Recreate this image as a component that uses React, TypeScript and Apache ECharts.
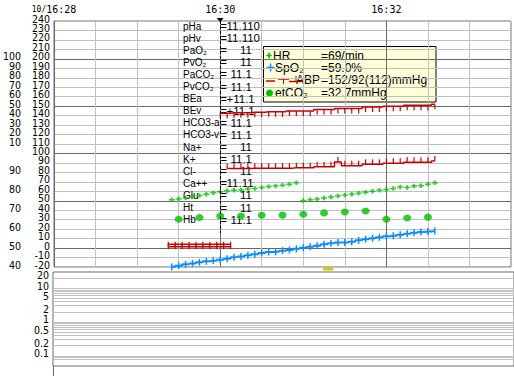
import React, { useEffect, useRef } from 'react';
import * as echarts from 'echarts';

// ---------- data ----------
const SAMPLE_SEC = 5; // trend sample interval (s since 16:28:00)
const ETCO2_SEC = 15;

const timeLabels: Record<number, string> = { 0: '{s|10/}16:28', 120: '16:30', 240: '16:32' };

// right label column (ABP / HR / etCO2 scale) and left label column
const rightTicks = [-20, -10, 0, 10, 20, 30, 40, 50, 60, 70, 80, 90, 100, 110, 120, 130, 140, 150, 160, 170, 180, 190, 200, 210, 220, 230, 240];
const leftTicks = [-20, 0, 20, 40, 60, 80, 110, 120, 130, 140, 150, 160, 170, 180, 190, 200];

const hrStart1 = 85;
const hrValues1 = [51, 52, 53, 54.5, 55.5, 57, 58.5, 59.5, 60.5, 61, 61.5, 62.5, 63, 64, 65, 65.5, 66.5, 67.5, 69];
const hrStart2 = 180;
const hrValues2 = [50, 51, 52, 53, 54, 55, 56, 57, 58, 59, 60, 61, 62, 63, 64.5, 64, 65.5, 66, 67.5, 69];

const spo2Start = 85;
const spo2Values = [40.1, 40.7, 41.4, 41.9, 42.5, 43.0, 43.3, 43.8, 44.4, 45.1, 45.6, 46.2, 46.8, 47.4, 47.9,
  48.0, 48.6, 49.0, 49.6, 50.2, 50.7, 51.2, 52.0, 52.5, 53.0, 53.0, 53.4, 54.1, 54.7, 55.2, 55.7, 56.2, 56.5,
  57.1, 57.6, 58.1, 58.5, 58.8, 59.0];

const abpSysStart = 120;
const abpSys = [142.5, 142.5, 143, 143, 143, 143.5, 143.5, 144, 144, 144, 145, 145, 145, 145, 146.5, 146.5, 146.5,
  147.5, 147.5, 147.5, 147.5, 149, 149, 149, 150, 150, 150, 151, 151, 151, 151, 152];
const abpDiaStart = 125;
const abpDia = [84, 84, 84, 84, 84.3, 84.3, 84.3, 84.3, 84.3, 84.5, 85, 85, 85, 86, 86, 86, 91, 87, 87, 87,
  88.5, 88.5, 88.5, 89.6, 89.6, 89.6, 90.6, 90.6, 90.6, 90.6, 92];

const abpZeroStart = 82.5;
const abpZeroSys = [4, 4, 4, 4, 4, 4, 4, 4, 4, 4];
const abpZeroDia = [1.5, 1.5, 1.5, 1.5, 1.5, 1.5, 1.5, 1.5, 1.5, 1.5];

const etco2Start = 90;
const etco2Values = [30.5, 32.3, 33.8, 33.9, 34.7, 34.8, 35.8, 37.2, 38.2, 39.2, 30.5, 31.7, 32.7];

const eventTimes = [198];

const labTime = 120;
const labNames = ['pHa', 'pHv', 'PaO₂', 'PvO₂', 'PaCO₂', 'PvCO₂', 'BEa', 'BEv', 'HCO3-a', 'HCO3-v', 'Na+', 'K+', 'Cl-', 'Ca++', 'Glu', 'Ht', 'Hb'];
const labValues = ['11.110', '11.110', '11', '11', '11.1', '11.1', '+11.1', '+11.1', '11.1', '11.1', '11', '11.1', '11', '11.11', '11', '11', '11.1'];

const lowerLabels = [20, 10, 5, 2, 1, 0.5, 0.2, 0.1];
const lowerGridValues = [0.08, 0.09, 0.1, 0.2, 0.3, 0.4, 0.5, 0.6, 0.7, 0.8, 0.9, 1, 2, 3, 4, 5, 6, 7, 8, 9, 10, 20];

// ---------- styles ----------
const LIGHT = '#c0c0c0';
const DARK = '#6a6a6a';
const RED = '#c80000';
const BLUE = '#0a8cff';
const GREEN = '#00c000';
const NARROW = "'Liberation Sans Narrow', 'DejaVu Sans Condensed', 'Arial Narrow', sans-serif";
const SANS = "'Liberation Sans', Arial, 'DejaVu Sans', sans-serif";
const MONO = "'DejaVu Sans Mono', 'Liberation Mono', monospace";
const PLUS = 'path://M2,0H4V2H6V4H4V6H2V4H0V2H2Z';

const seq = (start: number, step: number, values: number[]) => values.map((v, i) => [start + i * step, v]);
const last = (a: number[]) => a[a.length - 1];
const leftText = (v: number) => (v >= 110 ? String(v - 100) : String(50 + v / 2));
const even = (a: number[]) => a.filter((_, i) => i % 2 === 0);
const odd = (a: number[]) => a.filter((_, i) => i % 2 === 1);

function buildOption() {
  const hrData = [...seq(hrStart1, SAMPLE_SEC, hrValues1), ...seq(hrStart2, SAMPLE_SEC, hrValues2)];
  const hrLast = last(hrValues2);
  const spo2Last = last(spo2Values);
  const sysLast = last(abpSys);
  const diaLast = last(abpDia);
  const meanLast = Math.round((sysLast + 2 * diaLast) / 3);
  const etLast = last(etco2Values);

  const yLabel = {
    fontFamily: NARROW, fontSize: 10.5, color: '#000', margin: 4,
    verticalAlign: 'bottom', lineHeight: 5,
  };
  const hidden = { axisLine: { show: false }, axisTick: { show: false }, splitLine: { show: false } };
  const upperLabelAxis = (values: number[], offset: number, fmt: (v: number) => string) => ({
    gridIndex: 0, type: 'value', min: -20, max: 240, position: 'left', offset, ...hidden,
    axisLabel: { ...yLabel, customValues: values, formatter: fmt },
  });
  const LOG_MIN = Math.log10(0.05), LOG_MAX = Math.log10(30);
  const lowerLabelAxis = (values: number[]) => ({
    gridIndex: 1, type: 'value', min: LOG_MIN, max: LOG_MAX, position: 'left', ...hidden,
    axisLabel: {
      ...yLabel, customValues: values.map((v) => Math.log10(v)),
      formatter: (v: number) => String(Number(Math.pow(10, v).toPrecision(3))),
    },
  });

  const abpLine = (data: number[][], down: boolean) => ({
    type: 'line', xAxisIndex: 0, yAxisIndex: 0, step: 'middle', data,
    lineStyle: { color: RED, width: 1.5 }, itemStyle: { color: RED },
    symbol: 'rect', symbolSize: [1.2, 5], symbolOffset: [0, down ? 2.5 : -2.5], showSymbol: true, z: 3,
  });

  const rowY = (i: number) => 26 + i * 12.1;
  const labGraphics: any[] = [];
  labNames.forEach((n, i) => {
    const y = rowY(i);
    labGraphics.push({ type: 'text', x: 183, y, z: 1, silent: true,
      style: { text: n, fontSize: 10, fontFamily: SANS, fill: '#000', align: 'left', verticalAlign: 'middle' } });
    labGraphics.push({ type: 'text', x: 220.5, y, z: 1, silent: true,
      style: { text: '=', fontSize: 11, fontFamily: SANS, fill: '#000', align: 'left', verticalAlign: 'middle' } });
    const v = labValues[i];
    const leftAligned = v.startsWith('+') || v.length >= 5;
    labGraphics.push({ type: 'text', x: leftAligned ? 226.5 : 252, y, z: 1, silent: true,
      style: { text: v, fontSize: 11.5, fontFamily: SANS, fill: '#000', align: leftAligned ? 'left' : 'right', verticalAlign: 'middle' } });
  });

  const lt = (text: string, x: number, y: number, align = 'left') => ({
    type: 'text', x, y, style: { text, fontSize: 12, fontFamily: SANS, fill: '#000', align, verticalAlign: 'middle' },
  });
  const rl = (x1: number, y1: number, x2: number, y2: number, w = 1.5) => ({
    type: 'line', shape: { x1, y1, x2, y2 }, style: { stroke: RED, lineWidth: w },
  });
  const r1 = 55.5, r2 = 67.5, r3 = 80, r4 = 93;
  const legend = {
    type: 'group', z: 100, silent: true,
    children: [
      { type: 'rect', shape: { x: 263.5, y: 46.5, width: 172.5, height: 55.5 }, style: { fill: '#ffffd8', stroke: '#000', lineWidth: 1 } },
      { type: 'polygon', shape: { points: [[266.5, 54.7], [268.3, 54.7], [268.3, 52.8], [270, 52.8], [270, 54.7], [271.8, 54.7], [271.8, 56.3], [270, 56.3], [270, 58.2], [268.3, 58.2], [268.3, 56.3], [266.5, 56.3]] }, style: { fill: GREEN } },
      lt('HR', 273, r1), lt(`=${hrLast}/min`, 321, r1),
      { type: 'rect', shape: { x: 266.5, y: r2 - 0.75, width: 8, height: 1.5 }, style: { fill: BLUE } },
      { type: 'rect', shape: { x: 269.8, y: r2 - 4, width: 1.5, height: 8 }, style: { fill: BLUE } },
      lt('SpO₂', 275, r2), lt(`=${spo2Last.toFixed(1)}%`, 321, r2),
      rl(266, r3 + 1, 275, r3 + 1), rl(278, r3 - 1, 289, r3 - 1), rl(283.5, r3 - 1, 283.5, r3 + 4, 1),
      rl(289, r3 + 1.5, 302, r3 + 1.5), rl(296, r3 + 1.5, 296, r3 - 4, 1),
      lt('ABP', 320, r3, 'right'), lt(`=${sysLast}/${diaLast}(${meanLast})mmHg`, 321, r3),
      { type: 'circle', shape: { cx: 269.5, cy: r4, r: 3.5 }, style: { fill: GREEN } },
      lt('etCO₂', 275, r4), lt(`=${etLast.toFixed(1)}mmHg`, 321, r4),
    ],
  };

  return {
    animation: false,
    textStyle: { fontFamily: SANS },
    grid: [
      { left: 53, top: 21, height: 246, right: -6, show: true, borderColor: DARK, borderWidth: 1 },
      { left: 53, top: 272, height: 94, right: -6, show: true, borderColor: DARK, borderWidth: 1 },
      { left: 53, top: 366, height: 30, right: -6, show: false },
    ],
    xAxis: [
      {
        gridIndex: 0, type: 'value', min: 0, max: 330, interval: 30, position: 'top',
        axisLine: { show: false }, axisTick: { show: false },
        axisLabel: {
          fontFamily: MONO, fontSize: 10, color: '#000', margin: 7,
          formatter: (v: number) => timeLabels[v] ?? '',
          rich: { s: { fontFamily: MONO, fontSize: 8, color: '#000' } },
        },
        splitLine: { show: true, lineStyle: { color: [DARK, LIGHT, LIGHT, LIGHT], width: 1 } },
      },
      { gridIndex: 1, type: 'value', min: 0, max: 330, show: false },
      { gridIndex: 2, type: 'value', min: 0, max: 330, show: false },
    ],
    yAxis: [
      {
        gridIndex: 0, type: 'value', min: -20, max: 240, interval: 10, position: 'left',
        axisLine: { show: false }, axisTick: { show: false },
        axisLabel: { ...yLabel, customValues: even(rightTicks), formatter: (v: number) => String(v) },
        splitLine: { show: true, lineStyle: { color: [LIGHT, LIGHT, DARK, LIGHT, LIGHT], width: 1 } },
      },
      upperLabelAxis(odd(rightTicks), 0, (v) => String(v)),
      upperLabelAxis(even(leftTicks), 29, leftText),
      upperLabelAxis(odd(leftTicks), 29, leftText),
      { gridIndex: 0, type: 'value', min: 40, max: 170, show: false },
      lowerLabelAxis(even(lowerLabels)),
      lowerLabelAxis(odd(lowerLabels)),
      {
        gridIndex: 2, type: 'value', position: 'left',
        axisLine: { show: true, lineStyle: { color: DARK, width: 1 } },
        axisTick: { show: false }, axisLabel: { show: false }, splitLine: { show: false },
      },
    ],
    graphic: [...labGraphics, legend],
    series: [
      {
        type: 'line', xAxisIndex: 0, yAxisIndex: 0, data: [], silent: true,
        markLine: {
          silent: true, symbol: 'none', label: { show: false },
          lineStyle: { color: '#000', width: 1, type: [3, 2] },
          data: [[{ coord: [labTime, 240] }, { coord: [labTime, 16] }]],
        },
        markPoint: {
          silent: true, label: { show: false },
          data: [
            { coord: [labTime, 240], symbol: 'triangle', symbolRotate: 180, symbolSize: [7, 4], symbolOffset: [0, -1], itemStyle: { color: '#000' } },
            ...eventTimes.map((t) => ({ coord: [t, -20], symbol: 'rect', symbolSize: [10, 3], symbolOffset: [0, 2], itemStyle: { color: '#cccc00' } })),
          ],
        },
      },
      abpLine(seq(abpZeroStart, SAMPLE_SEC, abpZeroSys), true),
      abpLine(seq(abpZeroStart, SAMPLE_SEC, abpZeroDia), false),
      abpLine(seq(abpSysStart, SAMPLE_SEC, abpSys), true),
      abpLine(seq(abpDiaStart, SAMPLE_SEC, abpDia), false),
      {
        type: 'line', xAxisIndex: 0, yAxisIndex: 4, step: 'middle', data: seq(spo2Start, SAMPLE_SEC, spo2Values),
        lineStyle: { color: BLUE, width: 2 }, itemStyle: { color: BLUE },
        symbol: 'rect', symbolSize: [1.5, 7], showSymbol: true, z: 3,
      },
      {
        type: 'scatter', xAxisIndex: 0, yAxisIndex: 0, data: hrData,
        symbol: PLUS, symbolSize: [6, 4.5], itemStyle: { color: GREEN }, z: 4,
      },
      {
        type: 'scatter', xAxisIndex: 0, yAxisIndex: 0, data: seq(etco2Start, ETCO2_SEC, etco2Values),
        symbol: 'circle', symbolSize: [8, 7], itemStyle: { color: GREEN }, z: 4,
      },
      {
        type: 'line', xAxisIndex: 1, yAxisIndex: 5, data: [], silent: true,
        markLine: {
          silent: true, symbol: 'none', label: { show: false },
          lineStyle: { color: LIGHT, width: 1, type: 'solid' },
          data: lowerGridValues.map((v) => ({ yAxis: Math.log10(v) })),
        },
      },
    ],
  };
}

export default function App() {
  const ref = useRef<HTMLDivElement>(null);
  useEffect(() => {
    document.body.style.margin = '0';
    const chart = echarts.init(ref.current!, null, { renderer: 'svg' });
    chart.setOption(buildOption() as any);
    return () => chart.dispose();
  }, []);
  return <div ref={ref} style={{ width: 514, height: 376, position: 'absolute', left: 0, top: 0, background: '#fff' }} />;
}
